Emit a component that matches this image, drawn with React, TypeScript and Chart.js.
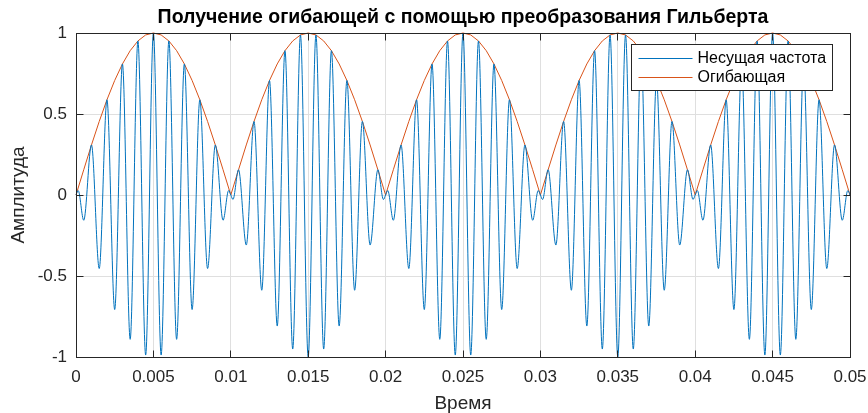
import React, { useEffect, useRef } from 'react';
import { Chart, registerables } from 'chart.js';

Chart.register(...registerables);

// ---- text ----
const CHART_TITLE = 'Получение огибающей с помощью преобразования Гильберта';
const X_LABEL = 'Время';
const Y_LABEL = 'Амплитуда';
const SERIES_NAMES = ['Несущая частота', 'Огибающая'];

// ---- axis ticks ----
const xTickValues = [0, 0.005, 0.01, 0.015, 0.02, 0.025, 0.03, 0.035, 0.04, 0.045, 0.05];
const yTickValues = [-1, -0.5, 0, 0.5, 1];

// ---- carrier: turning points of the modulated signal (time in ms, amplitude) ----
const carrierMs = [
  0, 0.14, 0.5, 1, 1.5, 2, 2.5, 3, 3.5, 4, 4.5, 5, 5.5, 6, 6.5, 7, 7.5, 8, 8.5, 9, 9.5, 9.86,
  10, 10.14, 10.5, 11, 11.5, 12, 12.5, 13, 13.5, 14, 14.5, 15, 15.5, 16, 16.5, 17, 17.5, 18, 18.5, 19, 19.5, 19.86,
  20, 20.14, 20.5, 21, 21.5, 22, 22.5, 23, 23.5, 24, 24.5, 25, 25.5, 26, 26.5, 27, 27.5, 28, 28.5, 29, 29.5, 29.86,
  30, 30.14, 30.5, 31, 31.5, 32, 32.5, 33, 33.5, 34, 34.5, 35, 35.5, 36, 36.5, 37, 37.5, 38, 38.5, 39, 39.5, 39.86,
  40, 40.14, 40.5, 41, 41.5, 42, 42.5, 43, 43.5, 44, 44.5, 45, 45.5, 46, 46.5, 47, 47.5, 48, 48.5, 49, 49.5, 49.86,
  50,
];
const carrierAmp = [
  0, 0.028, -0.156, 0.309, -0.454, 0.588, -0.707, 0.809, -0.891, 0.951, -0.988, 1, -0.988, 0.951, -0.891, 0.809, -0.707, 0.588, -0.454, 0.309, -0.156, 0.028,
  0, -0.028, 0.156, -0.309, 0.454, -0.588, 0.707, -0.809, 0.891, -0.951, 0.988, -1, 0.988, -0.951, 0.891, -0.809, 0.707, -0.588, 0.454, -0.309, 0.156, -0.028,
  0, 0.028, -0.156, 0.309, -0.454, 0.588, -0.707, 0.809, -0.891, 0.951, -0.988, 1, -0.988, 0.951, -0.891, 0.809, -0.707, 0.588, -0.454, 0.309, -0.156, 0.028,
  0, -0.028, 0.156, -0.309, 0.454, -0.588, 0.707, -0.809, 0.891, -0.951, 0.988, -1, 0.988, -0.951, 0.891, -0.809, 0.707, -0.588, 0.454, -0.309, 0.156, -0.028,
  0, 0.028, -0.156, 0.309, -0.454, 0.588, -0.707, 0.809, -0.891, 0.951, -0.988, 1, -0.988, 0.951, -0.891, 0.809, -0.707, 0.588, -0.454, 0.309, -0.156, 0.028,
  0,
];

// ---- envelope (time in ms, amplitude) ----
const envelopeMs = [
  0, 0.5, 1, 1.5, 2, 2.5, 3, 3.5, 4, 4.5, 5, 5.5, 6, 6.5, 7, 7.5, 8, 8.5, 9, 9.5,
  10, 10.5, 11, 11.5, 12, 12.5, 13, 13.5, 14, 14.5, 15, 15.5, 16, 16.5, 17, 17.5, 18, 18.5, 19, 19.5,
  20, 20.5, 21, 21.5, 22, 22.5, 23, 23.5, 24, 24.5, 25, 25.5, 26, 26.5, 27, 27.5, 28, 28.5, 29, 29.5,
  30, 30.5, 31, 31.5, 32, 32.5, 33, 33.5, 34, 34.5, 35, 35.5, 36, 36.5, 37, 37.5, 38, 38.5, 39, 39.5,
  40, 40.5, 41, 41.5, 42, 42.5, 43, 43.5, 44, 44.5, 45, 45.5, 46, 46.5, 47, 47.5, 48, 48.5, 49, 49.5,
  50,
];
const envelopeAmp = [
  0, 0.156, 0.309, 0.454, 0.588, 0.707, 0.809, 0.891, 0.951, 0.988, 1, 0.988, 0.951, 0.891, 0.809, 0.707, 0.588, 0.454, 0.309, 0.156,
  0, 0.156, 0.309, 0.454, 0.588, 0.707, 0.809, 0.891, 0.951, 0.988, 1, 0.988, 0.951, 0.891, 0.809, 0.707, 0.588, 0.454, 0.309, 0.156,
  0, 0.156, 0.309, 0.454, 0.588, 0.707, 0.809, 0.891, 0.951, 0.988, 1, 0.988, 0.951, 0.891, 0.809, 0.707, 0.588, 0.454, 0.309, 0.156,
  0, 0.156, 0.309, 0.454, 0.588, 0.707, 0.809, 0.891, 0.951, 0.988, 1, 0.988, 0.951, 0.891, 0.809, 0.707, 0.588, 0.454, 0.309, 0.156,
  0, 0.156, 0.309, 0.454, 0.588, 0.707, 0.809, 0.891, 0.951, 0.988, 1, 0.988, 0.951, 0.891, 0.809, 0.707, 0.588, 0.454, 0.309, 0.156,
  0,
];

// ---- styling ----
const WIDTH = 868;
const HEIGHT = 413;
const FONT = '"Liberation Sans", Arial, Helvetica, sans-serif';
const AXIS_COLOR = '#262626';
const GRID_COLOR = '#dfdfdf';
const CARRIER_COLOR = '#0072BD';
const ENVELOPE_COLOR = '#D95319';
const TICK_LEN = 7;

const align = (px: number) => Math.round(px - 0.5) + 0.5;

// Axes box with inward tick marks on all four sides
const axesFrame = {
  id: 'axesFrame',
  afterDatasetsDraw(chart: any) {
    const { ctx, chartArea: a, scales } = chart;
    const left = align(a.left);
    const right = align(a.right);
    const top = align(a.top);
    const bottom = align(a.bottom);
    ctx.save();
    ctx.strokeStyle = AXIS_COLOR;
    ctx.lineWidth = 1;
    ctx.beginPath();
    for (const v of xTickValues) {
      const px = align(scales.x.getPixelForValue(v));
      ctx.moveTo(px, bottom);
      ctx.lineTo(px, bottom - TICK_LEN);
      ctx.moveTo(px, top);
      ctx.lineTo(px, top + TICK_LEN);
    }
    for (const v of yTickValues) {
      const py = align(scales.y.getPixelForValue(v));
      ctx.moveTo(left, py);
      ctx.lineTo(left + TICK_LEN, py);
      ctx.moveTo(right, py);
      ctx.lineTo(right - TICK_LEN, py);
    }
    ctx.stroke();
    ctx.strokeRect(left, top, right - left, bottom - top);
    ctx.restore();
  },
};

// Legend box in the upper-right corner of the axes
const cornerLegend = {
  id: 'cornerLegend',
  afterDraw(chart: any) {
    const { ctx, chartArea: a } = chart;
    const datasets = chart.data.datasets;
    ctx.save();
    ctx.font = `16px ${FONT}`;
    const textW = Math.max(...datasets.map((d: any) => ctx.measureText(d.label).width));
    const lineLen = 54;
    const padL = 7;
    const gap = 5;
    const padR = 6;
    const rowH = 19;
    const boxW = Math.round(padL + lineLen + gap + textW + padR);
    const boxH = 46;
    const boxRight = a.right - 18;
    const boxLeft = align(boxRight - boxW);
    const boxTop = align(a.top + 11);
    ctx.fillStyle = '#ffffff';
    ctx.fillRect(boxLeft, boxTop, boxW, boxH);
    ctx.strokeStyle = AXIS_COLOR;
    ctx.lineWidth = 1;
    ctx.strokeRect(boxLeft, boxTop, boxW, boxH);
    datasets.forEach((d: any, i: number) => {
      const y = boxTop + 14 + i * rowH;
      ctx.strokeStyle = d.borderColor;
      ctx.lineWidth = 1;
      ctx.beginPath();
      ctx.moveTo(boxLeft + padL, align(y));
      ctx.lineTo(boxLeft + padL + lineLen, align(y));
      ctx.stroke();
      ctx.fillStyle = '#000000';
      ctx.textAlign = 'left';
      ctx.textBaseline = 'middle';
      ctx.fillText(d.label, boxLeft + padL + lineLen + gap, y);
    });
    ctx.restore();
  },
};

export default function App() {
  const canvasRef = useRef<HTMLCanvasElement | null>(null);

  useEffect(() => {
    const canvas = canvasRef.current;
    if (!canvas) return;

    const carrierPoints = carrierMs.map((t, i) => ({ x: t / 1000, y: carrierAmp[i] }));
    const envelopePoints = envelopeMs.map((t, i) => ({ x: t / 1000, y: envelopeAmp[i] }));

    const tickFont = { family: FONT, size: 17, lineHeight: 1.2 };
    const labelFont = { family: FONT, size: 19, lineHeight: 1 };

    const chart = new Chart(canvas, {
      type: 'line',
      data: {
        datasets: [
          {
            label: SERIES_NAMES[0],
            data: carrierPoints,
            borderColor: CARRIER_COLOR,
            borderWidth: 1,
            pointRadius: 0,
            fill: false,
            cubicInterpolationMode: 'monotone',
            clip: 2,
          },
          {
            label: SERIES_NAMES[1],
            data: envelopePoints,
            borderColor: ENVELOPE_COLOR,
            borderWidth: 1,
            pointRadius: 0,
            fill: false,
            tension: 0,
            clip: 2,
          },
        ],
      },
      options: {
        responsive: false,
        animation: false,
        devicePixelRatio: 1,
        parsing: false,
        normalized: true,
        events: [],
        layout: { padding: { left: 0, right: 18, top: 0, bottom: 0 } },
        plugins: {
          legend: { display: false },
          tooltip: { enabled: false },
          title: {
            display: true,
            text: CHART_TITLE,
            fullSize: false,
            color: '#000000',
            font: { family: FONT, size: 19.5, weight: 'bold', lineHeight: 1.2 },
            padding: { top: 6.3, bottom: 3.3 },
          },
        },
        scales: {
          x: {
            type: 'linear',
            min: 0,
            max: 0.05,
            afterBuildTicks: (scale: any) => {
              scale.ticks = xTickValues.map((value) => ({ value }));
            },
            afterFit: (scale: any) => {
              scale.height = 56;
              scale.paddingLeft = 0;
              scale.paddingRight = 0;
            },
            grid: { color: GRID_COLOR, lineWidth: 1, drawTicks: false },
            border: { display: false },
            ticks: {
              callback: (v: any) => String(v),
              color: AXIS_COLOR,
              font: tickFont,
              padding: 10.5,
              maxRotation: 0,
              autoSkip: false,
            },
            title: {
              display: true,
              text: X_LABEL,
              color: AXIS_COLOR,
              font: labelFont,
              padding: { top: 0, bottom: 0 },
            },
          },
          y: {
            type: 'linear',
            min: -1,
            max: 1,
            afterBuildTicks: (scale: any) => {
              scale.ticks = yTickValues.map((value) => ({ value }));
            },
            afterFit: (scale: any) => {
              scale.width = 76;
              scale.paddingTop = 0;
              scale.paddingBottom = 0;
            },
            grid: { color: GRID_COLOR, lineWidth: 1, drawTicks: false },
            border: { display: false },
            ticks: {
              callback: (v: any) => String(v),
              color: AXIS_COLOR,
              font: tickFont,
              padding: 9,
              autoSkip: false,
            },
            title: {
              display: true,
              text: Y_LABEL,
              color: AXIS_COLOR,
              font: labelFont,
              padding: { top: 9, bottom: 0 },
            },
          },
        },
      },
      plugins: [axesFrame, cornerLegend],
    } as any);

    return () => chart.destroy();
  }, []);

  return (
    <div style={{ position: 'absolute', left: 0, top: 0, width: WIDTH, height: HEIGHT, background: '#ffffff' }}>
      <canvas ref={canvasRef} width={WIDTH} height={HEIGHT} style={{ display: 'block', width: WIDTH, height: HEIGHT }} />
    </div>
  );
}
